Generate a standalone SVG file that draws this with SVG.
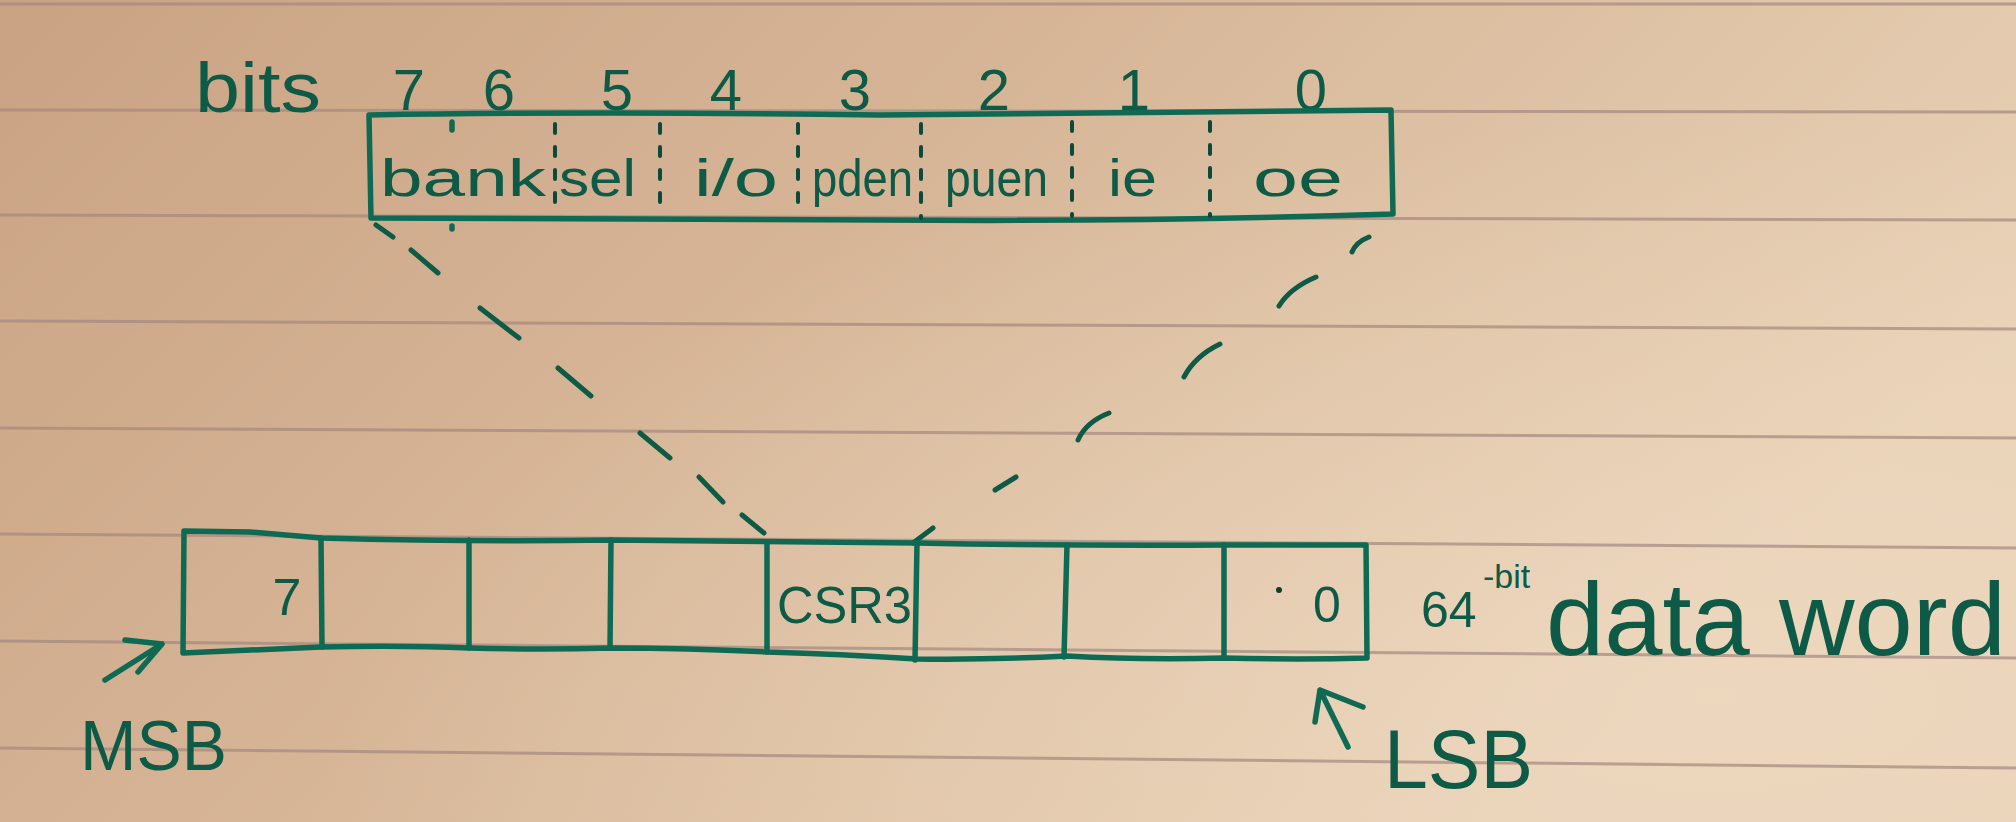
<svg xmlns="http://www.w3.org/2000/svg" width="2016" height="822" viewBox="0 0 2016 822">
<defs>
<linearGradient id="paperGrad" x1="0" y1="0" x2="1" y2="0.4">
<stop offset="0" stop-color="#c9a283"/>
<stop offset="0.45" stop-color="#d6b596"/>
<stop offset="1" stop-color="#e8d1b6"/>
</linearGradient>
<radialGradient id="glow" cx="0.85" cy="0.85" r="0.7">
<stop offset="0" stop-color="#f0dcc4" stop-opacity="0.55"/>
<stop offset="1" stop-color="#f0dcc4" stop-opacity="0"/>
</radialGradient>
<style>
.rule{stroke:#a4877f;stroke-width:3;opacity:0.7;fill:none}
.ink{stroke:#0e6a53;stroke-width:5.5;fill:none;stroke-linecap:round;stroke-linejoin:round}
.dash{stroke:#0d5a47;stroke-width:5;fill:none;stroke-linecap:round}
.div{stroke:#0b4a3b;stroke-width:4;fill:none;stroke-dasharray:9 14;stroke-linecap:round}
.t{font-family:"Liberation Sans","DejaVu Sans",sans-serif;fill:#0d5a47}
</style>
</defs>
<g id="paper">
<rect width="2016" height="822" fill="url(#paperGrad)"/>
<rect width="2016" height="822" fill="url(#glow)"/>
<path class="rule" d="M0,4 L2016,4 M0,110 L2016,112 M0,215 L2016,220 M0,321 L2016,329 M0,428 L2016,438 M0,534 L2016,548 M0,641 L2016,658 M0,748 L2016,768"/>
</g>
<g id="bit-numbers">
<text class="t" x="195" y="112" font-size="70" textLength="126" lengthAdjust="spacingAndGlyphs">bits</text>
<g font-size="58" text-anchor="middle">
<text class="t" x="409" y="110">7</text>
<text class="t" x="499" y="110">6</text>
<text class="t" x="617" y="110">5</text>
<text class="t" x="726" y="110">4</text>
<text class="t" x="855" y="110">3</text>
<text class="t" x="994" y="110">2</text>
<text class="t" x="1134" y="110">1</text>
<text class="t" x="1311" y="110">0</text>
</g>
</g>
<g id="csr-register">
<path class="ink" d="M369,115 Q600,111 880,115 Q1150,113 1391,110 L1393,214 Q1150,222 880,220 Q600,218 371,218 Z"/>
<path class="ink" d="M452,122 L452,130 M452,226 L452,229" />
<path class="div" d="M555,124 L555,214"/>
<path class="div" d="M660,124 L660,214"/>
<path class="div" d="M798,124 L798,216"/>
<path class="div" d="M921,124 L921,218"/>
<path class="div" d="M1072,122 L1072,216"/>
<path class="div" d="M1210,122 L1210,216"/>
<g font-size="52">
<text class="t" x="380" y="196" textLength="166" lengthAdjust="spacingAndGlyphs">bank</text>
<text class="t" x="559" y="196" textLength="77" lengthAdjust="spacingAndGlyphs">sel</text>
<text class="t" x="694" y="196" textLength="84" lengthAdjust="spacingAndGlyphs">i/o</text>
<text class="t" x="812" y="196" textLength="101" lengthAdjust="spacingAndGlyphs">pden</text>
<text class="t" x="945" y="196" textLength="103" lengthAdjust="spacingAndGlyphs">puen</text>
<text class="t" x="1108" y="196" textLength="49" lengthAdjust="spacingAndGlyphs">ie</text>
<text class="t" x="1253" y="196" textLength="90" lengthAdjust="spacingAndGlyphs">oe</text>
</g>
</g>
<g id="connectors">
<path class="dash" d="M376,225 L393,237 M411,250 L438,273 M480,308 L519,338 M558,368 L591,396 M640,433 L670,458 M699,477 L723,502 M742,515 L764,533"/>
<path class="dash" d="M1352,252 Q1356,242 1369,237 M1279,306 Q1290,288 1316,277 M1184,377 Q1195,356 1220,344 M1078,440 Q1086,422 1109,413 M995,490 L1016,477 M913,543 L933,528"/>
</g>
<g id="data-word">
<path class="ink" d="M184,531 L250,532 L321,538 Q470,542 611,540 Q770,541 917,543 Q1070,546 1224,545 L1366,545 L1367,658 Q1300,660 1224,658 Q1140,660 1067,656 Q990,660 917,659 Q840,654 767,652 Q690,648 611,648 Q540,650 469,648 Q400,645 321,647 Q250,650 183,653 Z"/>
<path class="ink" d="M321,538 L322,647 M469,540 L469,648 M611,540 L610,648 M767,542 L767,652 M917,543 L915,660 M1067,545 L1064,657 M1224,545 L1224,658"/>
<text class="t" x="287" y="615" font-size="52" text-anchor="middle">7</text>
<text class="t" x="777" y="623" font-size="52" textLength="135" lengthAdjust="spacingAndGlyphs">CSR3</text>
<circle cx="1279" cy="590" r="3" fill="#0b3d33"/>
<text class="t" x="1327" y="622" font-size="50" text-anchor="middle">0</text>
</g>
<g id="word-label">
<text class="t" x="1421" y="627" font-size="50">64</text>
<text class="t" x="1483" y="588" font-size="34">-bit</text>
<text class="t" x="1546" y="655" font-size="104" textLength="460" lengthAdjust="spacingAndGlyphs">data word</text>
</g>
<g id="msb">
<path class="ink" d="M105,680 L162,644 M125,640 L162,644 L138,672"/>
<text class="t" x="80" y="770" font-size="70" textLength="147" lengthAdjust="spacingAndGlyphs">MSB</text>
</g>
<g id="lsb">
<path class="ink" d="M1348,747 L1320,690 M1363,707 L1320,690 L1315,722"/>
<text class="t" x="1384" y="788" font-size="84" textLength="149" lengthAdjust="spacingAndGlyphs">LSB</text>
</g>
</svg>
